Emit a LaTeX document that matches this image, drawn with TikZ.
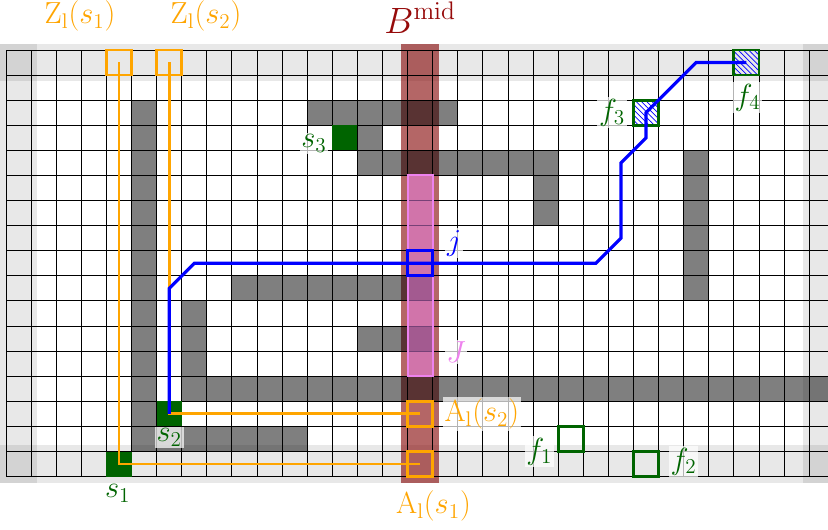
\documentclass[tikz,border=0pt]{standalone}
\usepackage{amsmath}
\usepackage{amssymb}
\usetikzlibrary{patterns}
\definecolor{pathorange}{RGB}{255,165,0}
\definecolor{cellgreen}{RGB}{0,100,0}
\definecolor{midred}{RGB}{150,10,10}
\definecolor{midfill}{RGB}{130,0,0}
\definecolor{jviolet}{RGB}{238,130,238}
\tikzset{
    cell/.style={rectangle, minimum size=0.5cm, inner sep=0pt},
    start/.style={cell, fill=cellgreen},
    goal/.style={cell, draw=cellgreen, line width=1.6pt},
    hgoal/.style={goal, pattern=north west lines, pattern color=blue},
    zbox/.style={cell, draw=pathorange, line width=1.6pt},
    lbl/.style={fill=white, fill opacity=0.7, text opacity=1, inner sep=1pt, font=\LARGE},
    wall/.style={fill=black, fill opacity=0.5},
    band/.style={fill=black, fill opacity=0.09},
}

\begin{document}
\begin{tikzpicture}[x=0.5cm,y=0.5cm]
    \useasboundingbox (-0.24,-2.1) rectangle (32.75,18.99);
    \clip (-0.24,-2.1) rectangle (32.75,18.99);

    % border band
    \fill[band] (-0.25,15.75) rectangle (33.25,17.25);
    \fill[band] (-0.25,-0.25) rectangle (33.25,1.25);
    \fill[band] (-0.25,-0.25) rectangle (1.25,17.25);
    \fill[band] (31.75,-0.25) rectangle (33.25,17.25);

    \fill[midfill, fill opacity=0.6] (15.75,-0.25) rectangle (17.25,17.25);

    % obstacles
    \fill[wall] (5,1) rectangle (6,15) (5,1) rectangle (12,2)
        (7,3) rectangle (33,4) (7,4) rectangle (8,7)
        (9,7) rectangle (17,8) (14,5) rectangle (17,6)
        (12,14) rectangle (18,15) (14,13) rectangle (15,14)
        (14,12) rectangle (22,13) (21,10) rectangle (22,12)
        (27,7) rectangle (28,13);

    \draw[step=0.5cm, line width=0.5pt] (0,0) grid (33,17);

    \draw[jviolet, line width=1.2pt, fill=jviolet, fill opacity=0.5] (16,4) rectangle (17,12);

    \node[start] (s1) at (4.5,0.5) {};
    \node[start] (s2) at (6.5,2.5) {};
    \node[start] (s3) at (13.5,13.5) {};
    \node[goal] (f1) at (22.5,1.5) {};
    \node[goal] (f2) at (25.5,0.5) {};
    \node[hgoal] (f3) at (25.5,14.5) {};
    \node[hgoal] (f4) at (29.5,16.5) {};
    \node[zbox] (zs1) at (4.5,16.5) {};
    \node[zbox] (zs2) at (6.5,16.5) {};
    \node[zbox] (as1) at (16.5,0.5) {};
    \node[zbox] (as2) at (16.5,2.5) {};
    \node[cell, draw=blue, line width=1.6pt] (j) at (16.5,8.5) {};

    \draw[pathorange, line width=1.6pt] (zs1.center) |- (as1.center);
    \draw[pathorange, line width=1.6pt] (zs2.center) |- (as2.center);
    \draw[blue, line width=1.8pt] (s2.center) -- ++(0,5) -- ++(1,1) -- ++(16,0)
        -- ++(1,1) -- ++(0,3) -- ++(1,1) -- (f3.center) -- ++(2,2) -- (f4.center);

    \node[lbl, text=pathorange] (zs1lbl) at (2.95,18.35) {$\mathrm{Z}_{\mathrm{l}}(s_1)$};
    \node[lbl, text=pathorange] (zs2lbl) at (7.97,18.35) {$\mathrm{Z}_{\mathrm{l}}(s_2)$};
    \node[font=\huge, text=midred, anchor=base] (bmid) at (16.5,17.67) {$B^{\mathrm{mid}}$};
    \node[lbl, text=pathorange] (as1lbl) at (17.03,-1.17) {$\mathrm{A}_{\mathrm{l}}(s_1)$};
    \node[lbl, text=pathorange] (as2lbl) at (18.96,2.5) {$\mathrm{A}_{\mathrm{l}}(s_2)$};
    \node[lbl, text=cellgreen] (s1lbl) at (4.45,-0.68) {$s_1$};
    \node[lbl, text=cellgreen] (s2lbl) at (6.5,1.55) {$s_2$};
    \node[lbl, text=cellgreen] (s3lbl) at (12.27,13.27) {$s_3$};
    \node[lbl, text=cellgreen] (f1lbl) at (21.25,1.0) {$f_1$};
    \node[lbl, text=cellgreen] (f2lbl) at (27.0,0.6) {$f_2$};
    \node[lbl, text=cellgreen] (f3lbl) at (24.15,14.5) {$f_3$};
    \node[lbl, text=cellgreen] (f4lbl) at (29.55,15.1) {$f_4$};
    \node[lbl, text=blue] (jlbl) at (17.85,9.3) {$j$};
    \node[lbl, text=jviolet] (Jlbl) at (17.93,4.97) {$J$};
\end{tikzpicture}
\end{document}
